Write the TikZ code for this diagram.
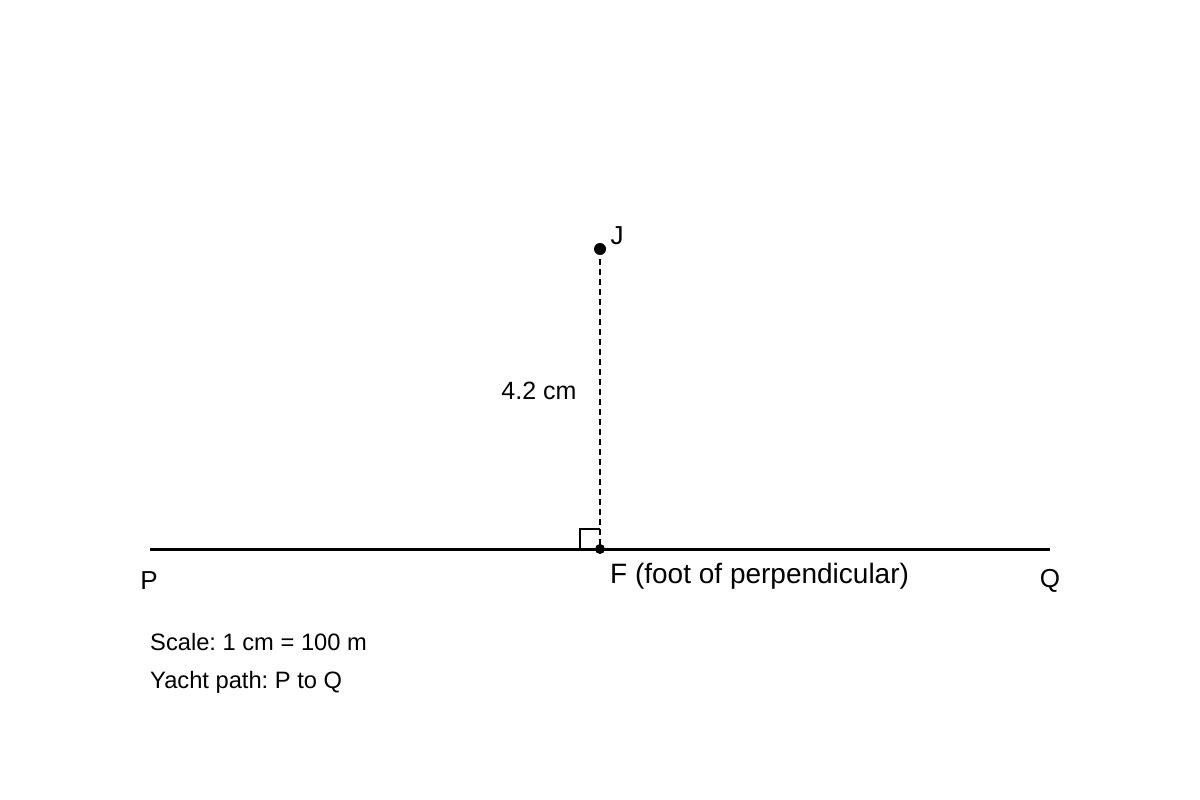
\documentclass[tikz,border=0pt]{standalone}
\usepackage{fontspec}
\setmainfont{Liberation Sans}
\frenchspacing
\begin{document}
\begin{tikzpicture}[x=1pt,y=-1pt,
  lbl/.style={inner sep=0pt,font=\fontsize{26}{30}\selectfont},
  note/.style={inner sep=0pt,anchor=west,font=\fontsize{23.7}{28}\selectfont},
  dotpt/.style={circle,fill=black,inner sep=0pt}]
\useasboundingbox[fill=white] (0,0) rectangle (1200,800);
\coordinate (P) at (150,549);
\coordinate (Q) at (1050,549);
\node[dotpt,minimum size=12pt] (J) at (600,249) {};
\node[dotpt,minimum size=10pt] (F) at (600,549) {};
\draw[line width=3pt] (P) -- (Q);
\draw[line width=2pt,dash pattern=on 6pt off 4pt] (J.center) -- (F.center);
\draw[line width=1.5pt] (580,549) -- (580,529) -- (600,529);
\node[lbl] (Jl) at (617,236) {J};
\node[lbl,font=\fontsize{25}{30}\selectfont] (dist) at (539,391) {4.2 cm};
\node[lbl] (Pl) at (149,581) {P};
\node[lbl,anchor=west,font=\fontsize{28}{32}\selectfont] (Fl) at (610,576) {F (foot of perpendicular)};
\node[lbl] (Ql) at (1050,581) {Q};
\node[note] (s1) at (150,642) {Scale: 1 cm = 100 m};
\node[note] (s2) at (150,682) {Yacht path: P to Q};
\end{tikzpicture}
\end{document}
